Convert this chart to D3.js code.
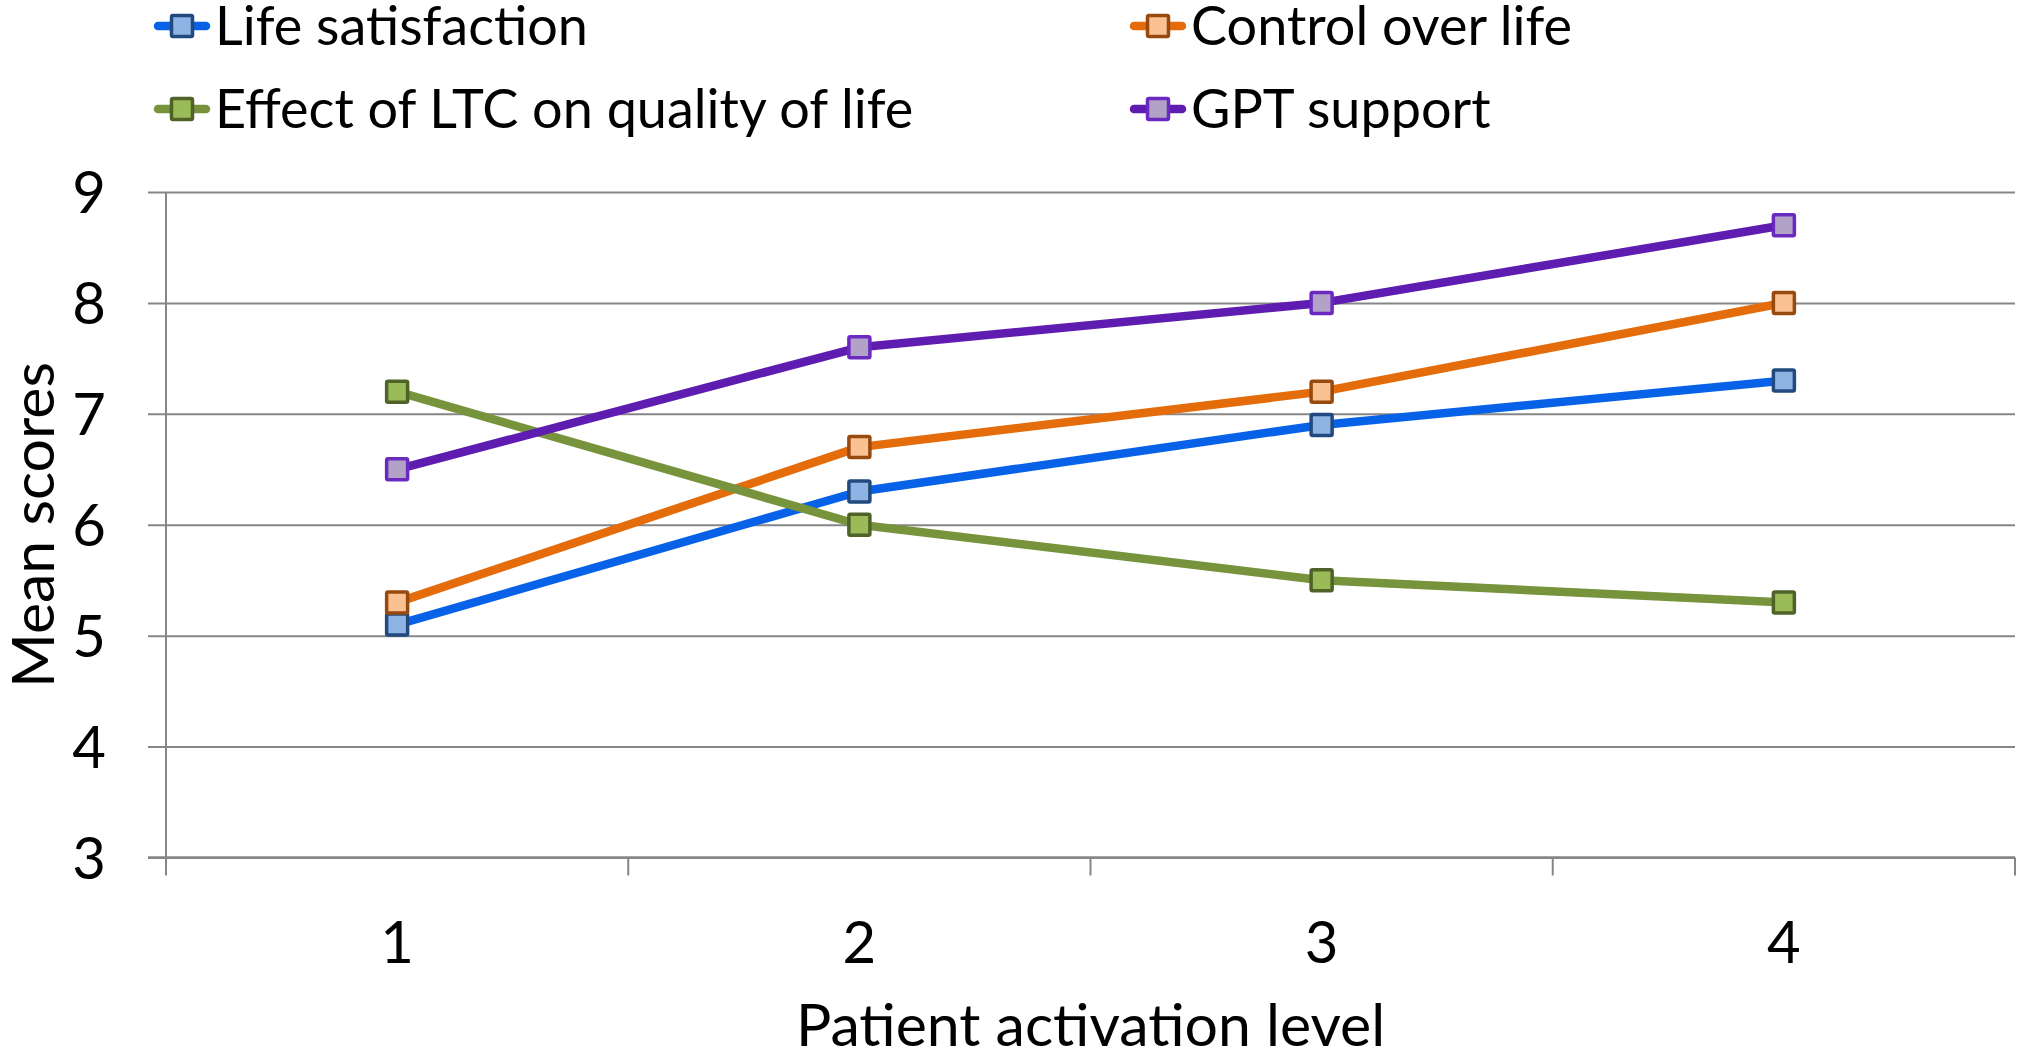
<!DOCTYPE html>
<html>
<head>
<meta charset="utf-8">
<script src="https://cdn.jsdelivr.net/npm/d3@7"></script>
<style>
  html, body { margin: 0; padding: 0; background: #fff; }
  svg { display: block; font-family: Lato, "Open Sans", sans-serif; }
</style>
</head>
<body>
<svg id="chart" width="2019" height="1050"></svg>
<script>
// Patient activation level (x categories)
const levels = [1, 2, 3, 4];

// Mean scores per activation level
const lifeSatisfaction = [5.1, 6.3, 6.9, 7.3];
const controlOverLife  = [5.3, 6.7, 7.2, 8.0];
const effectOfLTC      = [7.2, 6.0, 5.5, 5.3];
const gptSupport       = [6.5, 7.6, 8.0, 8.7];

const seriesNames = ["Life satisfaction", "Control over life", "Effect of LTC on quality of life", "GPT support"];
const yTicks = [3, 4, 5, 6, 7, 8, 9];

const xTitle = "Patient activation level";
const yTitle = "Mean scores";

const styles = [
  { line: "#0862E8", fill: "#8EB4E3", stroke: "#234A7E" },
  { line: "#E46C0A", fill: "#FAC192", stroke: "#984A0E" },
  { line: "#77933C", fill: "#9BBB59", stroke: "#4F6228" },
  { line: "#5E1DB0", fill: "#B3A2C7", stroke: "#6A2AC0" }
];

const series = [lifeSatisfaction, controlOverLife, effectOfLTC, gptSupport].map((vals, i) => ({
  name: seriesNames[i],
  values: vals.map((v, j) => ({ level: levels[j], value: v })),
  style: styles[i]
}));

const svg = d3.select("#chart");
const plotLeft = 166, plotRight = 2015, plotTop = 192, plotBottom = 857.5;
const tickFont = 58, titleFont = 59, legendFont = 54;

const x = d3.scaleBand().domain(levels).range([plotLeft, plotRight]).padding(0);
const y = d3.scaleLinear().domain([3, 9]).range([plotBottom, plotTop]);

// Horizontal gridlines with outward ticks
const yAxis = svg.append("g")
  .attr("transform", `translate(${plotLeft},0)`)
  .call(d3.axisLeft(y).tickValues(yTicks).tickSize(-(plotRight - plotLeft)).tickPadding(0).tickFormat(d3.format("d")));
yAxis.select(".domain").remove();
yAxis.selectAll(".tick line")
  .attr("x1", -18)
  .attr("stroke", "#868686")
  .attr("stroke-width", 2);
yAxis.selectAll(".tick text")
  .attr("x", -60)
  .attr("dy", "0.36em")
  .attr("fill", "#000")
  .style("font-size", tickFont + "px")
  .style("font-family", "Lato, sans-serif");

// Vertical axis line
svg.append("line")
  .attr("x1", plotLeft).attr("x2", plotLeft)
  .attr("y1", plotTop).attr("y2", plotBottom)
  .attr("stroke", "#868686").attr("stroke-width", 2);

// Category axis: boundary ticks between levels
const xAxis = svg.append("g")
  .attr("transform", `translate(0,${plotBottom})`)
  .call(d3.axisBottom(x).tickSize(0).tickPadding(64).tickFormat(d3.format("d")));
xAxis.select(".domain")
  .attr("d", `M${plotLeft - 18},0H${plotRight}`)
  .attr("stroke", "#868686").attr("stroke-width", 2.5);
xAxis.selectAll(".tick text")
  .attr("fill", "#000")
  .style("font-size", tickFont + "px")
  .style("font-family", "Lato, sans-serif");

const boundaries = levels.map(l => x(l)).concat([x(levels[levels.length - 1]) + x.bandwidth()]);
svg.append("g").selectAll("line")
  .data(boundaries)
  .join("line")
  .attr("x1", d => d).attr("x2", d => d)
  .attr("y1", plotBottom).attr("y2", plotBottom + 18)
  .attr("stroke", "#868686").attr("stroke-width", 2);

// Axis titles
svg.append("text")
  .attr("x", (plotLeft + plotRight) / 2)
  .attr("y", 1025)
  .attr("dy", "0.35em")
  .attr("text-anchor", "middle")
  .style("font-size", titleFont + "px")
  .text(xTitle);

svg.append("text")
  .attr("transform", `translate(33,525) rotate(-90)`)
  .attr("dy", "0.35em")
  .attr("text-anchor", "middle")
  .style("font-size", titleFont + "px")
  .text(yTitle);

// Series lines and markers
const cx = d => x(d.level) + x.bandwidth() / 2;
const line = d3.line().x(cx).y(d => y(d.value));

const gSeries = svg.append("g").selectAll("g")
  .data(series)
  .join("g");

gSeries.append("path")
  .attr("d", d => line(d.values))
  .attr("fill", "none")
  .attr("stroke", d => d.style.line)
  .attr("stroke-width", 8.5)
  .attr("stroke-linejoin", "round")
  .attr("stroke-linecap", "round");

const mk = 21;
gSeries.each(function(s) {
  d3.select(this).selectAll("rect")
    .data(s.values)
    .join("rect")
    .attr("x", d => cx(d) - mk / 2)
    .attr("y", d => y(d.value) - mk / 2)
    .attr("width", mk).attr("height", mk)
    .attr("fill", s.style.fill)
    .attr("stroke", s.style.stroke)
    .attr("stroke-width", 3.5)
    .attr("rx", 1.5);
});

// Legend: two rows, two columns
const legendPos = [
  { x: 182, y: 26 },
  { x: 1158, y: 26 },
  { x: 182, y: 109 },
  { x: 1158, y: 109 }
];
const legend = svg.append("g").selectAll("g")
  .data(series)
  .join("g")
  .attr("transform", (d, i) => `translate(${legendPos[i].x},${legendPos[i].y})`);

legend.append("line")
  .attr("x1", -24).attr("x2", 24)
  .attr("stroke", d => d.style.line)
  .attr("stroke-width", 8.5)
  .attr("stroke-linecap", "round");
legend.append("rect")
  .attr("x", -mk / 2).attr("y", -mk / 2)
  .attr("width", mk).attr("height", mk)
  .attr("fill", d => d.style.fill)
  .attr("stroke", d => d.style.stroke)
  .attr("stroke-width", 3.5)
  .attr("rx", 1.5);
legend.append("text")
  .attr("x", 33)
  .attr("dy", "0.35em")
  .style("font-size", legendFont + "px")
  .text(d => d.name);
</script>
</body>
</html>
